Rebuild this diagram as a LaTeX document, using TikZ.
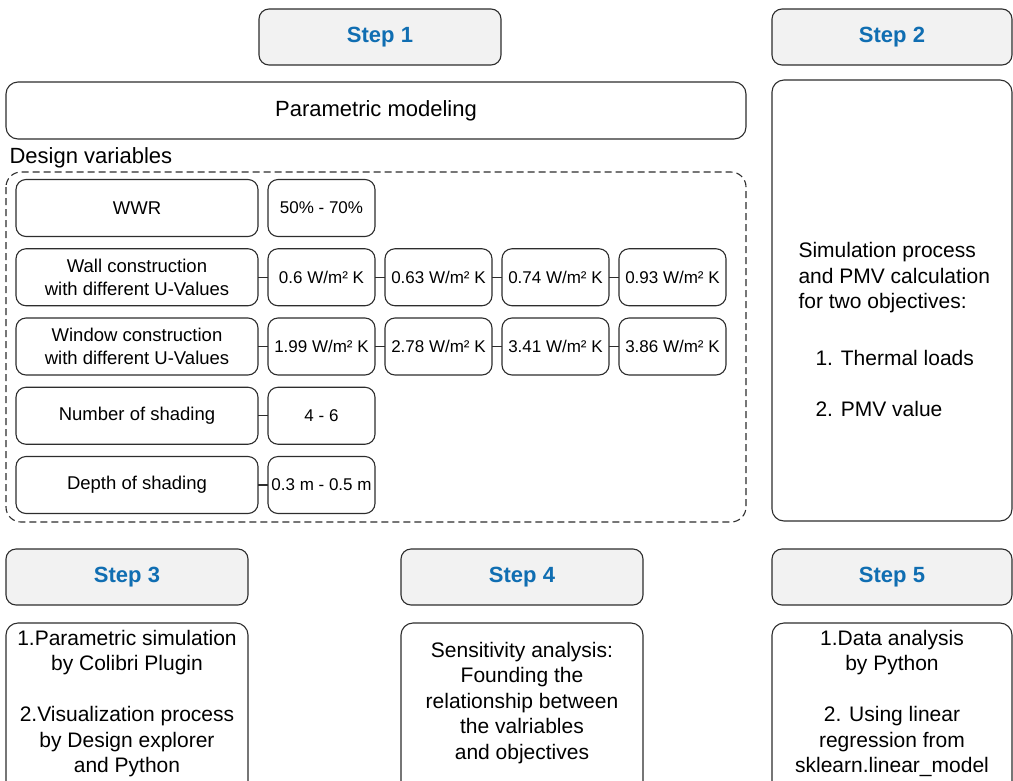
\documentclass[tikz,border=0pt]{standalone}
\usepackage{fontspec}
\setmainfont{Liberation Sans}
\usetikzlibrary{positioning}
\definecolor{stepblue}{RGB}{16,110,178}
\definecolor{stepfill}{RGB}{242,242,242}
\definecolor{edge}{RGB}{45,45,45}

\begin{document}
\begin{tikzpicture}[x=1pt, y=-1pt, node distance=10pt, line width=1.1pt,
  stepbox/.style={draw=edge, fill=stepfill, rounded corners=10pt, minimum width=242pt, minimum height=56pt, font=\fontsize{22}{26}\selectfont\bfseries, text=stepblue},
  panel/.style={draw=edge, rounded corners=12pt},
  varbox/.style={draw=edge, rounded corners=10pt, outer sep=0pt, minimum width=242pt, minimum height=57pt, align=center, font=\fontsize{18.5}{23}\selectfont},
  valbox/.style={draw=edge, rounded corners=10pt, outer sep=0pt, minimum width=107pt, minimum height=57pt, inner sep=1pt, font=\fontsize{17}{20}\selectfont},
  body/.style={inner sep=0pt, font=\fontsize{21}{25.5}\selectfont},
  link/.style={draw=edge}
]
  \useasboundingbox (0,0) rectangle (1013,780);
  \clip (0,0) rectangle (1013,780);
  % Steps
  \node[stepbox] (s1) at (380,37) {Step 1};
  \node[stepbox, minimum width=240pt] (s2) at (892,37) {Step 2};
  \node[stepbox] (s3) at (127,577) {Step 3};
  \node[stepbox] (s4) at (522,577) {Step 4};
  \node[stepbox, minimum width=240pt] (s5) at (892,577) {Step 5};
  % Panels
  \node[panel, minimum width=740pt, minimum height=57pt, font=\fontsize{22}{26}\selectfont] (model) at (376,110.5) {Parametric modeling};
  \node[anchor=west, inner sep=0pt, font=\fontsize{22}{26}\selectfont] (dv) at (9,158) {Design variables};
  \draw[edge, dash pattern=on 7pt off 4pt, rounded corners=15pt] (6,172) rectangle (746,522);
  \node[panel, minimum width=240pt, minimum height=441pt] (p2) at (892,300.5) {};
  \node[panel, minimum width=242pt, minimum height=177pt] (p3) at (127,711.5) {};
  \node[panel, minimum width=242pt, minimum height=177pt] (p4) at (522,711.5) {};
  \node[panel, minimum width=240pt, minimum height=177pt] (p5) at (892,711.5) {};
  % Texts
  \node[body, anchor=north west, align=left] (t2) at (798,242) {Simulation process\\and PMV calculation\\for two objectives:\\[31pt]\hspace{17pt}1. Thermal loads\\[26pt]\hspace{17pt}2. PMV value};
  \node[body, anchor=north, align=center] (t3) at (127,629.5) {1.Parametric simulation\\by Colibri Plugin\\[25.5pt]2.Visualization process\\by Design explorer\\and Python};
  \node[body, anchor=north, align=center] (t4) at (522,641.5) {Sensitivity analysis:\\Founding the\\relationship between\\the valriables\\and objectives};
  \node[body, anchor=north, align=center] (t5) at (892,629.5) {1.Data analysis\\by Python\\[25.5pt]2. Using linear\\regression from\\sklearn.linear\_model};
  % Variables
  \node[varbox] (wwr) at (137,208) {WWR};
  \node[varbox, below=12.25pt of wwr] (wall) {Wall construction\\with different U-Values};
  \node[varbox, below=12.25pt of wall] (win) {Window construction\\with different U-Values};
  \node[varbox, below=12.25pt of win] (num) {Number of shading};
  \node[varbox, below=12.25pt of num] (dep) {Depth of shading};
  % Values
  \node[valbox, right=of wwr] (wwr1) {50\% - 70\%};
  \node[valbox, right=of wall] (wall1) {0.6 W/m² K};
  \node[valbox, right=of wall1] (wall2) {0.63 W/m² K};
  \node[valbox, right=of wall2] (wall3) {0.74 W/m² K};
  \node[valbox, right=of wall3] (wall4) {0.93 W/m² K};
  \node[valbox, right=of win] (win1) {1.99 W/m² K};
  \node[valbox, right=of win1] (win2) {2.78 W/m² K};
  \node[valbox, right=of win2] (win3) {3.41 W/m² K};
  \node[valbox, right=of win3] (win4) {3.86 W/m² K};
  \node[valbox, right=of num] (num1) {4 - 6};
  \node[valbox, right=of dep] (dep1) {0.3 m - 0.5 m};
  % Links
  \draw[link] (wall) -- (wall1);
  \draw[link] (wall1) -- (wall2);
  \draw[link] (wall2) -- (wall3);
  \draw[link] (wall3) -- (wall4);
  \draw[link] (win) -- (win1);
  \draw[link] (win1) -- (win2);
  \draw[link] (win2) -- (win3);
  \draw[link] (win3) -- (win4);
  \draw[link] (num) -- (num1);
  \draw[link] (dep) -- (dep1);
\end{tikzpicture}
\end{document}
